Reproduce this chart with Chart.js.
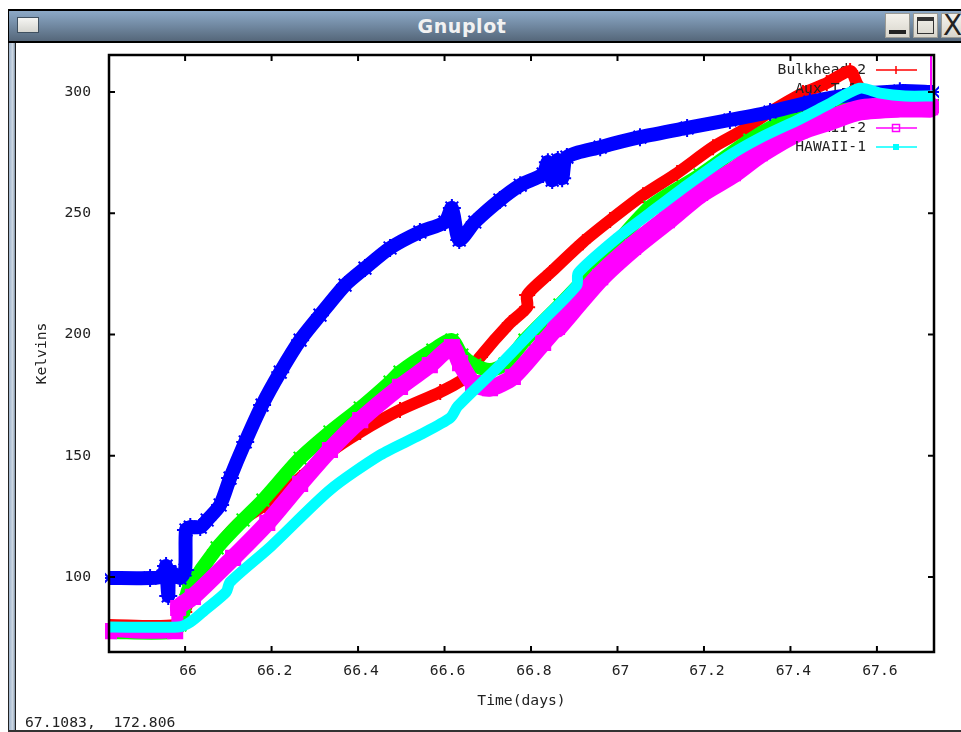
<!DOCTYPE html>
<html><head><meta charset="utf-8">
<script src="https://cdn.jsdelivr.net/npm/chart.js@4/dist/chart.umd.min.js"></script>
<style>
html,body{margin:0;padding:0;background:#fff;overflow:hidden;width:961px;height:732px}
.a{position:absolute}
.btn{top:13px;height:25px;background:linear-gradient(#f4f2ec,#d8d5cc);box-sizing:border-box;border:1px solid #9a9a94}
</style></head><body>
<div class="a" style="left:8px;top:9px;width:953px;height:34px;background:#000"></div>
<div class="a" style="left:9px;top:11px;width:952px;height:30px;background:linear-gradient(#8ca9c7,#55677a)"></div>
<div class="a" style="left:8px;top:43px;width:8px;height:689px;background:linear-gradient(90deg,#222 0,#222 12%,#9fb4cc 13%,#cfd9e4 60%,#7f93a8 87%,#222 88%)"></div>
<div class="a" style="left:8px;top:730px;width:953px;height:2px;background:#333"></div>
<div class="a" style="left:17px;top:17px;width:22px;height:16px;box-sizing:border-box;border:1px solid #3f5060;background:linear-gradient(#f5f5f3,#d5d5d0)"></div>
<div class="a" style="left:362px;width:200px;top:15px;text-align:center;color:#f2f2f2;font:bold 19px 'DejaVu Sans',sans-serif;letter-spacing:.6px">Gnuplot</div>
<div class="a btn" style="left:885px;width:25px"><div class="a" style="left:3px;top:16px;width:17px;height:4px;background:#222"></div></div>
<div class="a btn" style="left:913px;width:25px"><div class="a" style="left:3px;top:3px;width:17px;height:17px;box-sizing:border-box;border:1px solid #333;border-top-width:4px"></div></div>
<div class="a btn" style="left:941px;width:25px;font:28px/24px 'DejaVu Sans',sans-serif;color:#222;padding-left:1px">X</div>
<canvas id="c" class="a" style="left:0;top:0" width="961" height="732"></canvas>
<div class="a" style="left:25px;top:713px;font:14.7px 'DejaVu Sans Mono',monospace;white-space:pre;color:#222;height:17px;overflow:hidden">67.1083,  172.806</div>
<script>
const seriesNames = ["Bulkhead 2","Aux T-1A","Aux T-2A","HAWAII-2","HAWAII-1"];
const xTicks = [66,66.2,66.4,66.6,66.8,67,67.2,67.4,67.6];
const yTicks = [100,150,200,250,300];

const redX = [65.824,65.977,65.998,66.023,66.069,66.127,66.185,66.266,66.335,66.405,66.497,66.59,66.647,66.682,66.751,66.791,66.791,66.844,66.92,66.983,67.059,67.138,67.221,67.29,67.353,67.429,67.484,67.538,67.556,67.584,67.653,67.732];
const redY = [80.2,80.2,85.6,96.7,111,122.7,129.7,140.8,151.5,159.8,168.9,176.3,182.1,190.7,204.7,211.3,216.3,225.4,238.1,247.2,257.5,266.6,277.3,284.3,291.8,299.6,303.7,308.7,302.9,297.5,296.7,296.7];

const greenX = [65.824,65.97,65.988,66.002,66.007,66.074,66.134,66.18,66.266,66.335,66.405,66.474,66.497,66.573,66.617,66.64,66.67,66.705,66.74,66.786,66.867,66.96,67.075,67.191,67.306,67.399,67.491,67.584,67.732];
const greenY = [77.3,77.3,80.2,90.5,94.6,112,123.5,131.7,149,159.8,169.7,180.4,184.5,193.6,197.7,191.5,187.4,185.4,187.8,197.7,212.2,229.9,252.6,265.8,280.2,289.3,294.6,295.5,294.6];

const blueX = [65.824,65.919,65.949,65.956,65.961,65.965,65.988,66,66.002,66.012,66.035,66.051,66.081,66.104,66.139,66.178,66.22,66.266,66.312,66.37,66.416,66.474,66.543,66.601,66.617,66.634,66.67,66.728,66.775,66.828,66.839,66.849,66.862,66.872,66.883,66.96,67.052,67.161,67.26,67.353,67.445,67.538,67.653,67.732];
const blueY = [99.6,99.6,100.4,104.5,92.2,102.1,99.6,102.9,119.4,120.6,120.6,123.5,129.7,140.8,155.7,170.9,184.5,197.7,208,220.4,227.4,235.7,242.3,246.4,252.2,239,246.4,255.5,261.6,266.2,271.1,263.7,272,264.5,273.2,277.3,281.4,285.2,288.5,291.8,295.9,298.8,300.4,300];

const magentaX = [65.824,65.977,65.984,66.018,66.111,66.19,66.266,66.335,66.405,66.497,66.566,66.617,66.636,66.666,66.705,66.758,66.828,66.86,66.96,67.036,67.114,67.191,67.267,67.329,67.422,67.491,67.561,67.653,67.723];
const magentaY = [77.7,77.7,87.2,91.8,107.9,122.3,138.4,152.4,164.7,178.4,187.4,194.8,188.2,180,177.9,182.5,196.5,203.1,223.7,236.1,247.2,258.4,266.6,274.8,284.3,288.5,292.6,293.8,293.8];

const spikeX = [67.725,67.725];
const spikeY = [300,330];

const cyanX = [65.824,65.984,66.012,66.046,66.095,66.104,66.197,66.335,66.451,66.543,66.613,66.631,66.728,66.821,66.906,66.909,66.999,67.075,67.161,67.253,67.329,67.422,67.484,67.561,67.607,67.665,67.732];
const cyanY = [79.4,79.4,81.4,86.4,93.8,97.9,112.4,135.9,150.3,158.6,165.6,170.5,187.4,204.7,220.4,225.4,239.8,250.1,261.6,273.2,281,288.9,294.6,301.6,299.6,298.4,298.4];

const zip = (xs, ys) => xs.map((x, i) => ({x, y: ys[i]}));
const FONT = "14.7px 'DejaVu Sans Mono',monospace";
const clip = {left: 4, right: 5, top: 0, bottom: 0};
const legendRows = [70, 89, 109, 128, 147];

function mk(label, xs, ys, color, width, style, r, order){
  return {label, data: zip(xs, ys), borderColor: color, backgroundColor: color,
    borderWidth: width, pointStyle: style, pointRadius: r, pointBorderWidth: 2,
    pointBorderColor: color, pointBackgroundColor: color, tension: 0.25, order, clip,
    borderJoinStyle: 'round', borderCapStyle: 'butt'};
}
const magentaSet = mk(seriesNames[3], magentaX, magentaY, '#ff00ff', 17, 'rect', 10, 3);
magentaSet.borderCapStyle = 'round';
magentaSet.segment = {borderWidth: ctx => {
  const x = ctx.p0.parsed.x;
  return x < 65.98 ? 12 : x < 66.85 ? 17 : 21;
}};
const datasets = [
  mk(seriesNames[0], redX, redY, '#ff0000', 12, 'cross', 8, 6),
  mk(seriesNames[1], greenX, greenY, '#00ff00', 14, 'crossRot', 9, 5),
  mk(seriesNames[2], blueX, blueY, '#0000ff', 14, 'star', 9, 4),
  magentaSet,
  mk('', spikeX, spikeY, '#ff00ff', 2, false, 0, 2),
  mk(seriesNames[4], cyanX, cyanY, '#00ffff', 11, false, 0, 1)
];

const gnuplotFrame = {
  id: 'gnuplotFrame',
  beforeDatasetDraw(chart, args){
    const i = args.index;
    if (i === 4) return;
    const row = i > 4 ? 4 : i;
    const ds = chart.data.datasets[i], y = legendRows[row], c = chart.ctx;
    c.save();
    c.font = FONT; c.fillStyle = '#222'; c.textAlign = 'right'; c.textBaseline = 'middle';
    c.fillText(ds.label, 866, y);
    c.strokeStyle = ds.borderColor; c.fillStyle = ds.borderColor; c.lineWidth = 1.5;
    c.beginPath(); c.moveTo(876, y); c.lineTo(917, y); c.stroke();
    if (row === 0){ c.beginPath(); c.moveTo(896, y-4); c.lineTo(896, y+4); c.stroke(); }
    if (row === 3){ c.strokeRect(892.5, y-3.5, 7, 7); }
    if (row === 4){ c.fillRect(893, y-3, 6, 6); }
    c.restore();
  },
  afterDatasetsDraw(chart){
    const {ctx: c, chartArea: a, scales: {x, y}} = chart;
    c.save();
    c.strokeStyle = '#000'; c.lineWidth = 2.5;
    c.strokeRect(a.left, a.top, a.right - a.left, a.bottom - a.top);
    c.lineWidth = 2; c.beginPath();
    xTicks.forEach(v => { const p = x.getPixelForValue(v);
      c.moveTo(p, a.top); c.lineTo(p, a.top + 6); c.moveTo(p, a.bottom); c.lineTo(p, a.bottom - 6); });
    yTicks.forEach(v => { const p = y.getPixelForValue(v);
      c.moveTo(a.left, p); c.lineTo(a.left + 6, p); c.moveTo(a.right, p); c.lineTo(a.right - 6, p); });
    c.stroke(); c.restore();
  }
};

new Chart(document.getElementById('c'), {
  type: 'line',
  data: {datasets},
  plugins: [gnuplotFrame],
  options: {
    responsive: false, animation: false, devicePixelRatio: 1,
    layout: {padding: {left: 0, right: 27, top: 55, bottom: 0}},
    plugins: {legend: {display: false}, title: {display: false}, tooltip: {enabled: false}},
    scales: {
      x: {type: 'linear', min: 65.824, max: 67.732,
        afterBuildTicks: s => { s.ticks = xTicks.map(value => ({value})); },
        afterFit: s => { s.height = 80; },
        grid: {display: false}, border: {display: false},
        ticks: {color: '#222', font: {family: "'DejaVu Sans Mono',monospace", size: 14.7}, padding: 2, labelOffset: 3, maxRotation: 0, autoSkip: false, callback: v => String(v)},
        title: {display: true, text: 'Time(days)', color: '#222', font: {family: "'DejaVu Sans Mono',monospace", size: 14.7}, padding: {top: 0, bottom: 22}}
      },
      y: {type: 'linear', min: 69.07, max: 315.3,
        afterBuildTicks: s => { s.ticks = yTicks.map(value => ({value})); },
        afterFit: s => { s.width = 109; },
        grid: {display: false}, border: {display: false},
        ticks: {color: '#222', font: {family: "'DejaVu Sans Mono',monospace", size: 14.7}, padding: 10, autoSkip: false, callback: v => String(v)},
        title: {display: true, text: 'Kelvins', color: '#222', font: {family: "'DejaVu Sans Mono',monospace", size: 14.7}, padding: {top: 33, bottom: 0}}
      }
    }
  }
});
</script>
</body></html>
